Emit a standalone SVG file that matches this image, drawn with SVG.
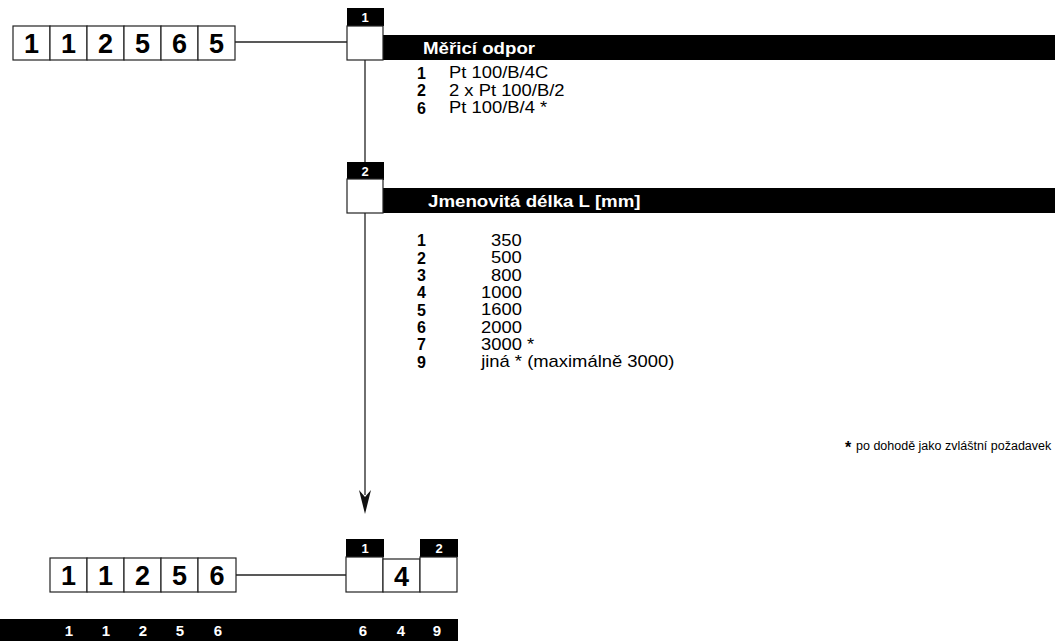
<svg xmlns="http://www.w3.org/2000/svg" width="1055" height="641" viewBox="0 0 1055 641">
<style>
.box{fill:#fff;stroke:#222;stroke-width:1.2}
.big{font-family:"Liberation Sans",Arial,sans-serif;font-weight:bold;font-size:27px;fill:#000;text-anchor:middle}
.lab{font-family:"Liberation Sans",Arial,sans-serif;font-weight:bold;font-size:13px;fill:#fff;text-anchor:middle}
.head{font-family:"Liberation Sans",Arial,sans-serif;font-weight:bold;font-size:17px;fill:#fff;transform:scaleX(1.1);transform-box:fill-box;transform-origin:0 0}
.num{font-family:"Liberation Sans",Arial,sans-serif;font-weight:bold;font-size:16px;fill:#000}
.txt{font-family:"Liberation Sans",Arial,sans-serif;font-size:16px;fill:#000;transform:scaleX(1.15);transform-box:fill-box;transform-origin:0 0}
.foot{font-family:"Liberation Sans",Arial,sans-serif;font-size:12.5px;fill:#000}
.bar{font-family:"Liberation Sans",Arial,sans-serif;font-weight:bold;font-size:15px;fill:#fff;text-anchor:middle}
.conn{stroke:#222;stroke-width:1.3;fill:none}
</style>
<g id="connectors">
<line class="conn" x1="235" y1="42" x2="347" y2="42"/>
<line class="conn" x1="365" y1="60" x2="365" y2="163"/>
<line class="conn" x1="365" y1="213" x2="365" y2="495"/>
<path d="M359,490 L365,497 L371,490 L365,514 Z" fill="#111"/>
<line class="conn" x1="236" y1="575" x2="346" y2="575"/>
</g>
<g id="code-top">
<rect class="box" x="13" y="26" width="37" height="34"/>
<rect class="box" x="50" y="26" width="37" height="34"/>
<rect class="box" x="87" y="26" width="37" height="34"/>
<rect class="box" x="124" y="26" width="37" height="34"/>
<rect class="box" x="161" y="26" width="37" height="34"/>
<rect class="box" x="198" y="26" width="37" height="34"/>
<text class="big" x="31.5" y="53">1</text>
<text class="big" x="68.5" y="53">1</text>
<text class="big" x="105.5" y="53">2</text>
<text class="big" x="142.5" y="53">5</text>
<text class="big" x="179.5" y="53">6</text>
<text class="big" x="216.5" y="53">5</text>
</g>
<g id="section1">
<rect x="347" y="8" width="37" height="18" fill="#000"/>
<text class="lab" x="365" y="22">1</text>
<rect x="383" y="35" width="672" height="25" fill="#000"/>
<rect class="box" x="347" y="26" width="36" height="34"/>
<text class="head" x="423" y="54">Měřicí odpor</text>
<text class="num" x="417" y="78.5">1</text><text class="txt" x="449" y="78.5">Pt 100/B/4C</text>
<text class="num" x="417" y="96">2</text><text class="txt" x="449" y="96">2 x Pt 100/B/2</text>
<text class="num" x="417" y="113.5">6</text><text class="txt" x="449" y="113.5">Pt 100/B/4 *</text>
</g>
<g id="section2">
<rect x="347" y="162" width="37" height="18" fill="#000"/>
<text class="lab" x="365" y="176">2</text>
<rect x="383" y="188" width="672" height="25" fill="#000"/>
<rect class="box" x="347" y="179" width="36" height="34"/>
<text class="head" x="428" y="207">Jmenovitá délka L [mm]</text>
<text class="num" x="417" y="246">1</text><text class="txt" x="491" y="246">350</text>
<text class="num" x="417" y="263.5">2</text><text class="txt" x="491" y="263.5">500</text>
<text class="num" x="417" y="281">3</text><text class="txt" x="491" y="281">800</text>
<text class="num" x="417" y="298">4</text><text class="txt" x="481" y="298">1000</text>
<text class="num" x="417" y="315.5">5</text><text class="txt" x="481" y="315.5">1600</text>
<text class="num" x="417" y="333">6</text><text class="txt" x="481" y="333">2000</text>
<text class="num" x="417" y="350">7</text><text class="txt" x="481" y="350">3000 *</text>
<text class="num" x="417" y="367.5">9</text><text class="txt" x="481" y="367.5">jiná * (maximálně 3000)</text>
</g>
<g id="footnote">
<text class="num" x="845" y="453" font-size="17">*</text>
<text class="foot" x="856" y="450">po dohodě jako zvláštní požadavek</text>
</g>
<g id="code-bottom">
<rect class="box" x="50" y="558" width="37" height="34"/>
<rect class="box" x="87" y="558" width="37" height="34"/>
<rect class="box" x="124" y="558" width="37" height="34"/>
<rect class="box" x="161" y="558" width="37" height="34"/>
<rect class="box" x="198" y="558" width="38" height="34"/>
<text class="big" x="68.5" y="585">1</text>
<text class="big" x="105.5" y="585">1</text>
<text class="big" x="142.5" y="585">2</text>
<text class="big" x="179.5" y="585">5</text>
<text class="big" x="217" y="585">6</text>
</g>
<g id="code-result">
<rect x="346" y="539" width="38" height="18" fill="#000"/>
<text class="lab" x="365" y="553">1</text>
<rect x="420" y="539" width="38" height="18" fill="#000"/>
<text class="lab" x="439" y="553">2</text>
<rect class="box" x="346" y="557" width="37" height="35"/>
<rect class="box" x="383" y="559" width="37" height="33"/>
<rect class="box" x="420" y="557" width="37" height="35"/>
<text class="big" x="401.5" y="586">4</text>
</g>
<g id="legend-bar">
<rect x="0" y="619" width="458" height="22" fill="#000"/>
<text class="bar" x="69" y="636">1</text>
<text class="bar" x="106" y="636">1</text>
<text class="bar" x="143" y="636">2</text>
<text class="bar" x="180" y="636">5</text>
<text class="bar" x="218" y="636">6</text>
<text class="bar" x="363" y="636">6</text>
<text class="bar" x="401" y="636">4</text>
<text class="bar" x="437" y="636">9</text>
</g>
</svg>
